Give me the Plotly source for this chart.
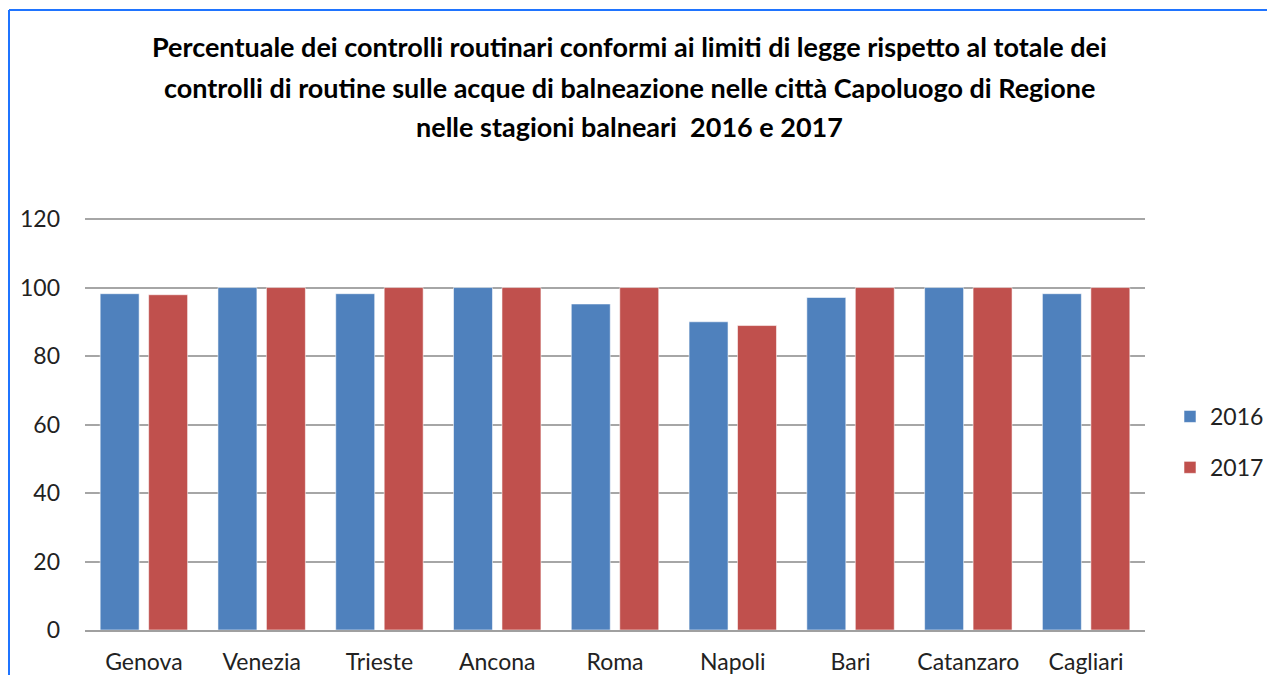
import plotly.graph_objects as go

cities = ["Genova", "Venezia", "Trieste", "Ancona", "Roma", "Napoli", "Bari", "Catanzaro", "Cagliari"]
values_2016 = [98.2, 100, 98.2, 100, 95.2, 90.0, 97.1, 100, 98.2]
values_2017 = [97.9, 100, 100, 100, 100, 88.9, 100, 100, 100]
y_ticks = [0, 20, 40, 60, 80, 100, 120]

title_lines = [
    "Percentuale dei controlli routinari conformi ai limiti di legge rispetto al totale dei",
    "controlli di routine sulle acque di balneazione nelle città Capoluogo di Regione",
    "nelle stagioni balneari  2016 e 2017",
]

W, H = 1267, 675
M_L, M_R, M_T, M_B = 85, 122, 217, 45
plot_w = W - M_L - M_R
plot_h = H - M_T - M_B

font_family = "Lato, 'Open Sans', sans-serif"


def px_x(px):
    return (px - M_L) / plot_w


def px_y(py):
    return (H - M_B - py) / plot_h


fig = go.Figure()
fig.add_trace(go.Bar(
    x=cities, y=values_2016, name="2016", legendgroup="a",
    marker={"color": "#4F81BD", "line": {"color": "rgba(255,255,255,0.55)", "width": 1}},
))
fig.add_trace(go.Bar(
    x=cities, y=values_2017, name="2017", legendgroup="b",
    marker={"color": "#C0504D", "line": {"color": "rgba(255,255,255,0.55)", "width": 1}},
))

# title as separate lines to match the wide line spacing
for i, line in enumerate(title_lines):
    fig.add_annotation(
        text=f"<b>{line}</b>", xref="paper", yref="paper",
        x=px_x(629), y=px_y(47 + i * 40),
        xanchor="center", yanchor="middle", showarrow=False,
        font={"family": font_family, "size": 27, "color": "#000000"},
    )

# blue frame on top and left edges
fig.add_shape(type="line", xref="paper", yref="paper",
              x0=px_x(9), x1=px_x(W + 5), y0=px_y(10), y1=px_y(10),
              line={"color": "#1f74ff", "width": 2})
fig.add_shape(type="line", xref="paper", yref="paper",
              x0=px_x(9), x1=px_x(9), y0=px_y(10), y1=px_y(H + 5),
              line={"color": "#1f74ff", "width": 2})

fig.update_layout(
    width=W, height=H,
    margin={"l": M_L, "r": M_R, "t": M_T, "b": M_B, "autoexpand": False},
    paper_bgcolor="white", plot_bgcolor="white",
    barmode="group", bargap=0.177, bargroupgap=0.196,
    font={"family": font_family, "size": 23, "color": "#222222"},
    legend={
        "x": px_x(1170), "y": px_y(442), "xanchor": "left", "yanchor": "middle",
        "font": {"size": 23, "color": "#222222"}, "tracegroupgap": 18,
        "bgcolor": "rgba(0,0,0,0)",
    },
    showlegend=True,
)
fig.update_yaxes(
    range=[0, 120.6], tickvals=y_ticks, showgrid=True, gridcolor="#a6a6a6", gridwidth=1.5,
    zeroline=False, showline=False, ticklabelstandoff=24,
)
fig.update_xaxes(
    showline=True, linecolor="#a0a0a0", linewidth=2, ticklabelstandoff=10,
    showgrid=False, tickangle=0, tickfont={"size": 23},
)

fig.write_html("out.html", config={"displayModeBar": False},
               post_script="document.body.style.margin = '0';")
